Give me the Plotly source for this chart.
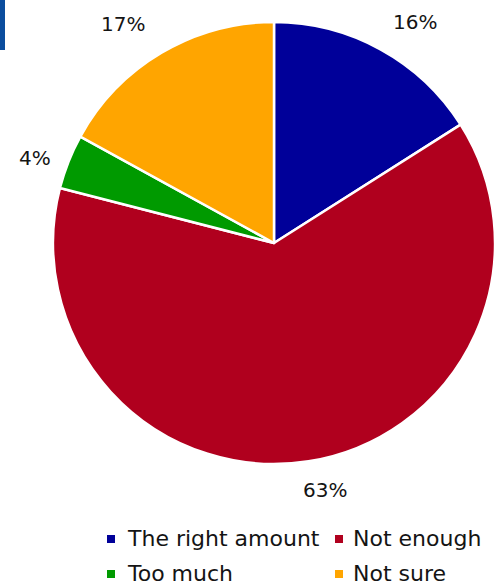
import math
import plotly.graph_objects as go

categories = ["The right amount", "Not enough", "Too much", "Not sure"]
values = [16, 63, 4, 17]
colors = ["#000099", "#B0001E", "#009A00", "#FFA500"]

W, H = 502, 588
cx, cy, R = 274, 243, 221

def px(x):
    return x / W

def py(y):
    return 1 - y / H

fig = go.Figure()
fig.add_trace(go.Pie(
    labels=categories,
    values=values,
    sort=False,
    direction="clockwise",
    rotation=0,
    marker=dict(colors=colors, line=dict(color="white", width=2.5)),
    textinfo="none",
    hoverinfo="label+percent",
    showlegend=False,
    domain=dict(x=[px(cx - R), px(cx + R)], y=[py(cy + R), py(cy - R)]),
))

# percentage labels placed around the pie from the cumulative angles
total = sum(values)
label_radius = [1.11, 1.11, 1.11, 1.11]
offsets = [(23, -6), (13, 5), (-11, 5), (-26, -8)]
cum = 0
annotations = []
for i, v in enumerate(values):
    mid = (cum + v / 2) / total * 2 * math.pi
    cum += v
    r = R * label_radius[i]
    x = cx + r * math.sin(mid) + offsets[i][0]
    y = cy - r * math.cos(mid) + offsets[i][1]
    annotations.append(dict(
        x=px(x), y=py(y), xref="paper", yref="paper",
        text=f"{round(v / total * 100)}%", showarrow=False,
        xanchor="center", yanchor="middle",
        font=dict(family="DejaVu Sans", size=20, color="#141414"),
    ))

# legend built from categories and colours
shapes = [dict(type="rect", xref="paper", yref="paper",
               x0=0, x1=px(5), y0=py(50), y1=1,
               fillcolor="#0B4D9E", line=dict(width=0))]
marker_x = [107, 335, 107, 335]
text_x = [126, 352, 126, 352]
row_y = [538, 538, 573, 573]
for i, name in enumerate(categories):
    shapes.append(dict(type="rect", xref="paper", yref="paper",
                       x0=px(marker_x[i]), x1=px(marker_x[i] + 8),
                       y0=py(row_y[i] + 5), y1=py(row_y[i] - 3),
                       fillcolor=colors[i], line=dict(width=0)))
    annotations.append(dict(
        x=px(text_x[i]), y=py(row_y[i]), xref="paper", yref="paper",
        text=name, showarrow=False, xanchor="left", yanchor="middle",
        borderpad=0,
        font=dict(family="DejaVu Sans", size=22, color="#141414"),
    ))

fig.update_layout(
    width=W, height=H,
    margin=dict(l=0, r=0, t=0, b=0),
    paper_bgcolor="white",
    plot_bgcolor="white",
    annotations=annotations,
    shapes=shapes,
)

fig.write_html("out.html", config={"displayModeBar": False},
               post_script="document.body.style.margin='0';")
